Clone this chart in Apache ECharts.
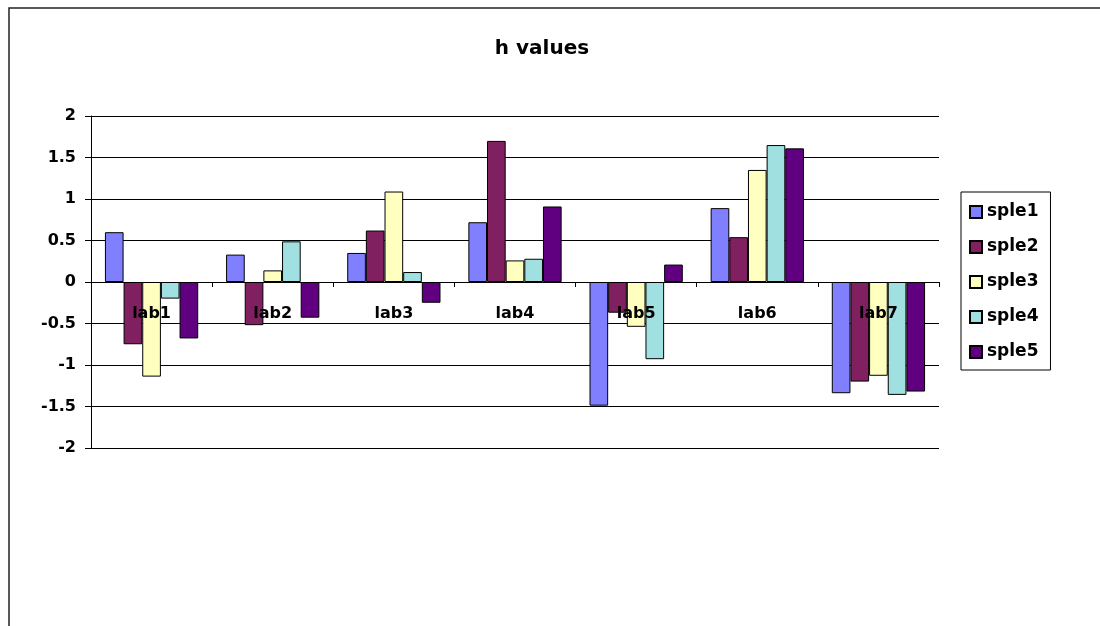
<!DOCTYPE html>
<html>
<head>
<meta charset="utf-8">
<title>h values</title>
<script src="https://cdn.jsdelivr.net/npm/echarts@6/dist/echarts.min.js"></script>
<style>
  html, body { margin: 0; padding: 0; background: #fff; }
  #chart { width: 1100px; height: 626px; }
</style>
</head>
<body>
<div id="chart"></div>
<script>
// Categories (labs) and the h value of each sample per lab
const labs = ['lab1', 'lab2', 'lab3', 'lab4', 'lab5', 'lab6', 'lab7'];
const sampleNames = ['sple1', 'sple2', 'sple3', 'sple4', 'sple5'];

const sple1 = [0.60, 0.33, 0.35, 0.72, -1.49, 0.89, -1.34];
const sple2 = [-0.75, -0.52, 0.62, 1.70, -0.37, 0.54, -1.20];
const sple3 = [-1.14, 0.14, 1.09, 0.26, -0.54, 1.35, -1.13];
const sple4 = [-0.20, 0.49, 0.12, 0.28, -0.93, 1.65, -1.36];
const sple5 = [-0.68, -0.43, -0.25, 0.91, 0.21, 1.61, -1.32];

// value axis range and step
const yMin = -2;
const yMax = 2;
const yStep = 0.5;

const sampleValues = [sple1, sple2, sple3, sple4, sple5];
const sampleColors = ['#8080ff', '#802060', '#ffffc0', '#a0e0e0', '#600080'];

const FONT = '"DejaVu Sans", Verdana, sans-serif';

const W = 1100, H = 626;
const grid = { left: 91, right: 161, top: 116, bottom: 178 };
// the category axis sits on the value 0 line
const plotH = H - grid.top - grid.bottom;
const zeroOffset = -plotH * (0 - yMin) / (yMax - yMin);

const chart = echarts.init(document.getElementById('chart'), null, { renderer: 'canvas' });

chart.setOption({
  backgroundColor: '#ffffff',
  animation: false,
  title: {
    text: 'h values',
    left: 537,
    top: 34,
    textAlign: 'center',
    textStyle: { fontFamily: FONT, fontWeight: 'bold', fontSize: 20, color: '#000' }
  },
  graphic: [{
    // outer chart frame (top and left edges fall inside the canvas)
    type: 'rect',
    silent: true,
    shape: { x: 9, y: 8, width: 1300, height: 800 },
    style: { fill: null, stroke: '#222', lineWidth: 1.5 }
  }],
  legend: {
    orient: 'vertical',
    left: 961,
    top: 192,
    padding: [10, 12, 8, 8],
    itemGap: 15,
    itemWidth: 12,
    itemHeight: 12,
    icon: 'rect',
    borderColor: '#000',
    borderWidth: 1,
    backgroundColor: '#fff',
    textStyle: { fontFamily: FONT, fontWeight: 'bold', fontSize: 17, lineHeight: 20, color: '#000' },
    data: sampleNames
  },
  grid: {
    left: grid.left,
    right: grid.right,
    top: grid.top,
    bottom: grid.bottom,
    containLabel: false
  },
  xAxis: {
    type: 'category',
    data: labs,
    z: 5,
    position: 'bottom',
    offset: zeroOffset,
    boundaryGap: true,
    axisLine: { show: true, onZero: false, lineStyle: { color: '#000', width: 1 } },
    axisTick: { show: true, inside: false, length: 5, alignWithLabel: false, lineStyle: { color: '#000' } },
    axisLabel: {
      margin: 24,
      fontFamily: FONT, fontWeight: 'bold', fontSize: 16, color: '#000'
    },
    splitLine: { show: false }
  },
  yAxis: {
    type: 'value',
    min: yMin,
    max: yMax,
    interval: yStep,
    axisLine: { show: true, onZero: false, lineStyle: { color: '#000', width: 1 } },
    axisTick: { show: true, inside: false, length: 6, lineStyle: { color: '#000' } },
    axisLabel: {
      margin: 15,
      fontFamily: FONT, fontWeight: 'bold', fontSize: 16, color: '#000'
    },
    splitLine: { show: true, lineStyle: { color: '#000', width: 1 } }
  },
  series: sampleNames.map((name, i) => ({
    name: name,
    type: 'bar',
    data: sampleValues[i],
    barGap: '0%',
    barCategoryGap: '23%',
    itemStyle: { color: sampleColors[i], borderColor: '#000', borderWidth: 1 }
  }))
});
</script>
</body>
</html>
